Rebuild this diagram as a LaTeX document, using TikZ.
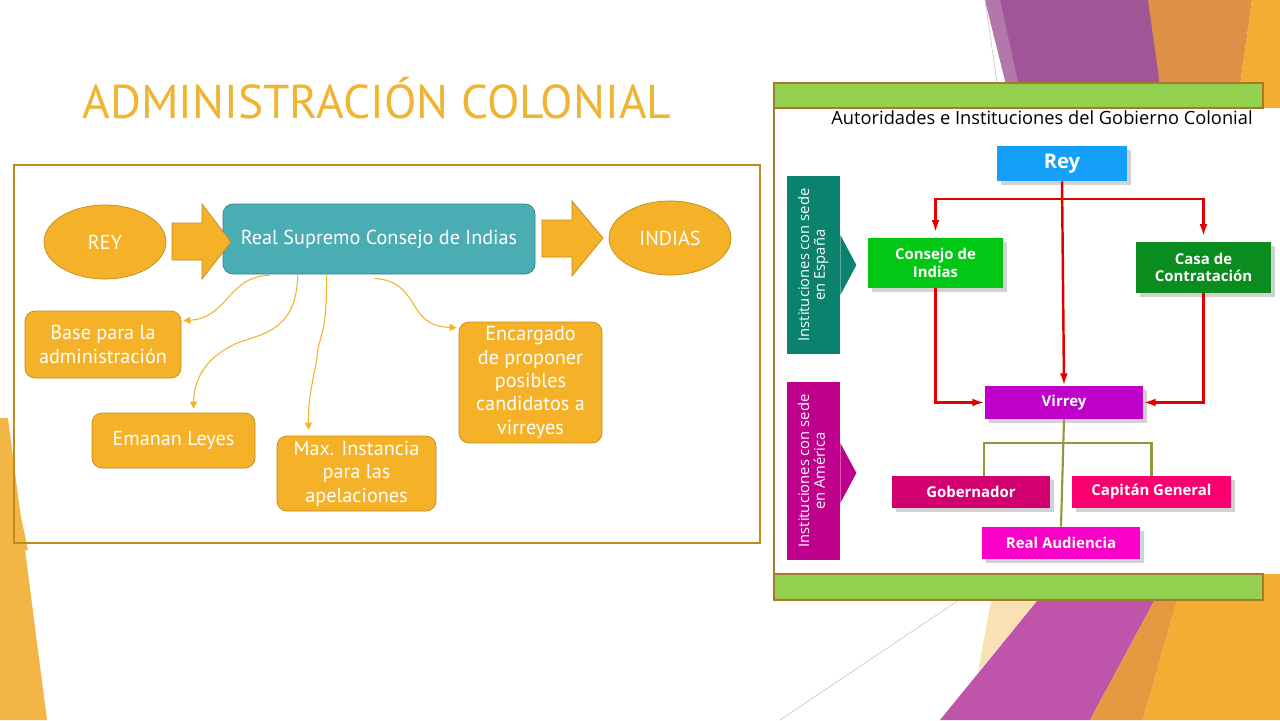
\documentclass[tikz,border=0pt]{standalone}
\usepackage{graphicx}
\usepackage{fontspec}
\setmainfont{PT Sans}
\newfontfamily\imgfont{Open Sans}
\newfontfamily\titlefont{PT Sans}
\usetikzlibrary{calc,shapes.geometric,arrows.meta,shadows}

\newdimen\pxu \pxu=0.02cm

\definecolor{gold}{RGB}{245,178,40}
\definecolor{goldline}{RGB}{190,140,30}
\definecolor{titlegold}{RGB}{240,180,50}
\definecolor{tealfill}{RGB}{75,173,180}
\definecolor{tealline}{RGB}{50,130,140}
\definecolor{decopurple}{RGB}{160,85,150}
\definecolor{decopurpleb}{RGB}{190,85,170}
\definecolor{decoorange}{RGB}{220,145,70}
\definecolor{decoyellow}{RGB}{242,174,50}
\definecolor{decopeach}{RGB}{250,225,180}
\definecolor{barline}{RGB}{170,120,40}
\definecolor{bargreen}{RGB}{146,208,80}
\definecolor{reyblue}{RGB}{20,160,250}
\definecolor{consejogreen}{RGB}{0,200,20}
\definecolor{casagreen}{RGB}{10,140,30}
\definecolor{virreypurple}{RGB}{190,0,200}
\definecolor{gobpink}{RGB}{210,0,110}
\definecolor{capred}{RGB}{250,0,110}
\definecolor{audmagenta}{RGB}{250,0,200}
\definecolor{espteal}{RGB}{10,130,110}
\definecolor{ammagenta}{RGB}{190,0,140}
\definecolor{redarrow}{RGB}{225,0,0}
\definecolor{olive}{RGB}{150,150,60}

\tikzset{
  oval/.style={ellipse, draw=goldline, fill=gold, text=white, minimum width=122\pxu, minimum height=74\pxu, font=\fontsize{11.5}{13.3}\selectfont},
  goldbox/.style={draw=goldline, fill=gold, text=white, rounded corners=10\pxu, align=center, inner sep=0pt, font=\fontsize{11.5}{13.3}\selectfont},
  blockarrow/.style={draw=goldline, fill=gold},
  thinarrow/.style={draw=gold, line width=0.6pt, -{Triangle[length=4pt,width=4pt]}},
  orgbox/.style={text=white, align=center, inner sep=0pt, font=\imgfont\bfseries\fontsize{8.5}{9.8}\selectfont, drop shadow={shadow xshift=2pt,shadow yshift=-2pt,opacity=0.35}},
  sidebox/.style={text=white, inner sep=0pt, font=\imgfont\fontsize{8.4}{10}\selectfont},
  redline/.style={draw=redarrow, line width=1.4pt, -{Latex[length=7pt,width=4.5pt]}},
  oliveline/.style={draw=olive, line width=1.2pt}
}

\begin{document}
\begin{tikzpicture}[x=0.02cm, y=-0.02cm]
  \useasboundingbox (0,0) rectangle (1280,720);
  \fill[white] (0,0) rectangle (1280,720);

  % background shapes
  \fill[decopurple] (985,0) -- (1150,0) -- (1162,100) -- (1010,100) -- cycle;
  \fill[decopurple!80!white] (985,0) -- (1000,0) -- (1022,100) -- (1010,100) -- cycle;
  \fill[decoorange] (1148,0) -- (1252,0) -- (1238,100) -- (1162,100) -- cycle;
  \fill[decoyellow] (1252,0) -- (1280,0) -- (1280,100) -- (1238,100) -- cycle;
  \fill[decoyellow] (1255,80) rectangle (1280,610);
  \draw[gray!40, line width=0.4pt] (985,0) -- (998,90);
  \fill[decopeach] (993,590) -- (1046,590) -- (978,672) -- cycle;
  \fill[decopurpleb] (1046,590) -- (1160,590) -- (1090,720) -- (940,720) -- cycle;
  \fill[decoorange!70!decoyellow] (1160,590) -- (1180,590) -- (1143,720) -- (1090,720) -- cycle;
  \fill[decoyellow] (1180,590) -- (1280,590) -- (1280,720) -- (1143,720) -- cycle;
  \draw[gray!40, line width=0.4pt] (962,598) -- (780,720);
  \fill[decoyellow!90!white] (0,418) -- (8,418) -- (47,720) -- (0,720) -- cycle;
  \fill[decoyellow!90!white] (0,418) -- (28,550) -- (0,550) -- cycle;

  % title
  \node[font=\titlefont\fontsize{27}{30}\selectfont, text=titlegold, anchor=base west, inner sep=0pt] (title) at (82,118) {ADMINISTRACIÓN COLONIAL};

  % left scheme
  \draw[goldline, line width=0.6pt] (14,165) rectangle (760,543);

  \node[oval] (rey) at (105,242) {REY};
  \node[draw=tealline, fill=tealfill, text=white, rounded corners=10\pxu, minimum width=312\pxu, minimum height=70\pxu, font=\fontsize{11.5}{13.3}\selectfont] (rsci) at (379,239) {Real Supremo Consejo de Indias};
  \node[oval] (indias) at (670,238) {INDIAS};

  \draw[blockarrow] (172,223) -- (202,223) -- (202,204) -- (231,242) -- (202,279) -- (202,260) -- (172,260) -- cycle;
  \draw[blockarrow] (542,220) -- (572,220) -- (572,201) -- (603,238) -- (572,276) -- (572,257) -- (542,257) -- cycle;

  \node[goldbox, minimum width=156\pxu, minimum height=67\pxu] (base) at (103,344.5) {Base para la\\administración};
  \node[goldbox, minimum width=163\pxu, minimum height=55\pxu] (emanan) at (173.5,440.5) {Emanan Leyes};
  \node[goldbox, minimum width=159\pxu, minimum height=75\pxu] (maxinst) at (356.5,473.5) {Max. Instancia\\para las\\apelaciones};
  \node[goldbox, minimum width=143\pxu, minimum height=121\pxu] (encargado) at (530.5,382.5) {Encargado\\de proponer\\posibles\\candidatos a\\virreyes};

  \draw[thinarrow] ($(rsci.south west)+(47,1)$) .. controls (228,276) and (228,318) .. ($(base.north east)+(2,10)$);
  \draw[thinarrow] ($(rsci.south west)+(75,1)$) .. controls (297,330) and (262,334) .. (240,342) .. controls (205,356) and (194,380) .. ($(emanan.north)+(20,-4)$);
  \draw[thinarrow] ($(rsci.south west)+(104,1)$) .. controls (327,340) and (318,335) .. (317,358) .. controls (312,385) and (308,400) .. ($(maxinst.north)+(-48,-6)$);
  \draw[thinarrow] ($(rsci.south west)+(152,4)$) .. controls (422,282) and (405,326) .. ($(encargado.north west)+(-2,6)$);

  % picture on the right
  \fill[white] (774,108) rectangle (1280,574);
  \draw[barline, fill=bargreen, line width=0.6pt] (774,83) rectangle (1263,108);
  \draw[barline, fill=bargreen, line width=0.6pt] (774,574) rectangle (1263,600);
  \draw[barline, line width=0.6pt] (774,108) -- (774,574);

  \node[font=\imgfont\fontsize{10.4}{12}\selectfont, text=black] (heading) at (1042,118) {Autoridades e Instituciones del Gobierno Colonial};

  \node[sidebox, fill=espteal, minimum width=53\pxu, minimum height=178\pxu] (espana) at (813.5,265) {\rotatebox{90}{\begin{tabular}{@{}c@{}}Instituciones con sede\\[-1pt]en España\end{tabular}}};
  \fill[espteal] ($(espana.east)+(0,-30)$) -- ($(espana.east)+(16,0)$) -- ($(espana.east)+(0,30)$) -- cycle;
  \node[sidebox, fill=ammagenta, minimum width=53\pxu, minimum height=178\pxu] (america) at (813.5,471) {\rotatebox{90}{\begin{tabular}{@{}c@{}}Instituciones con sede\\[-1pt]en América\end{tabular}}};
  \fill[ammagenta] ($(america.east)+(0,-28)$) -- ($(america.east)+(16,2)$) -- ($(america.east)+(0,32)$) -- cycle;

  \node[orgbox, fill=reyblue, minimum width=130\pxu, minimum height=35\pxu, font=\imgfont\bfseries\fontsize{11.5}{12}\selectfont] (rey2) at (1062,163.5) {Rey};
  \node[orgbox, fill=consejogreen, minimum width=135\pxu, minimum height=50\pxu] (consejo) at (935.5,263) {Consejo de\\Indias};
  \node[orgbox, fill=casagreen, minimum width=135\pxu, minimum height=51\pxu] (casa) at (1203.5,267.5) {Casa de\\Contratación};
  \node[orgbox, fill=virreypurple, minimum width=158\pxu, minimum height=33\pxu] (virrey) at (1064,402.5) {Virrey};
  \node[orgbox, fill=gobpink, minimum width=158\pxu, minimum height=32\pxu] (gob) at (971,492) {Gobernador};
  \node[orgbox, fill=capred, minimum width=159\pxu, minimum height=32\pxu] (capitan) at (1151.5,492) {Capitán General};
  \node[orgbox, fill=audmagenta, minimum width=158\pxu, minimum height=32\pxu] (audiencia) at (1061,543) {Real Audiencia};

  \coordinate (split) at (1062,199);
  \draw[redline] (rey2.south) -- (virrey.north);
  \draw[redline, shorten >=3pt] (split) -| (consejo.north);
  \draw[redline, shorten >=3pt] (split) -| (casa.north);
  \draw[redline] (consejo.south) |- (virrey.west);
  \draw[redline] (casa.south) |- (virrey.east);

  \coordinate (fork) at (1065,443);
  \draw[oliveline] (virrey.south) -- (audiencia.north);
  \draw[oliveline] (fork) -| ($(gob.north)+(13,0)$);
  \draw[oliveline] (fork) -| (capitan.north);
\end{tikzpicture}
\end{document}
